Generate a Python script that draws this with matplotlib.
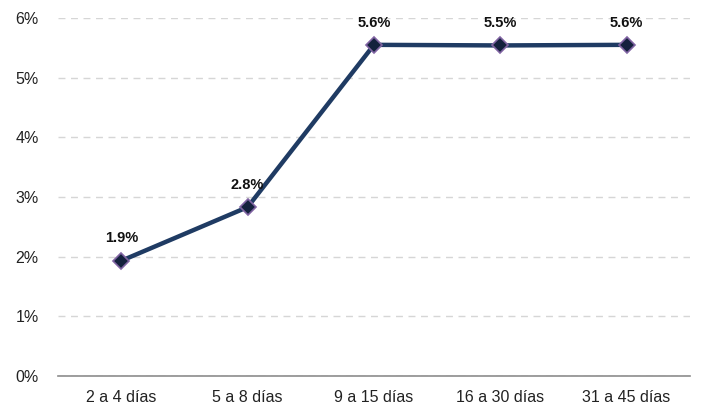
import matplotlib
matplotlib.use("Agg")
import matplotlib.pyplot as plt

categories = ["2 a 4 días", "5 a 8 días", "9 a 15 días", "16 a 30 días", "31 a 45 días"]
values = [1.93, 2.83, 5.55, 5.54, 5.55]
labels = ["1.9%", "2.8%", "5.6%", "5.5%", "5.6%"]
yticks = [0, 1, 2, 3, 4, 5, 6]

plt.rcParams['font.family'] = ["Liberation Sans", "DejaVu Sans"]

fig = plt.figure(figsize=(7.01, 4.09), dpi=100)
ax = fig.add_axes([0.083, 0.081, 0.901, 0.875])

x = list(range(len(categories)))
ax.plot(x, values, color="#1F3B63", linewidth=3.2, marker="D", markersize=8,
        markerfacecolor="#14213D", markeredgecolor="#8064A2", markeredgewidth=1.2, zorder=3)

for xi, v, lab in zip(x, values, labels):
    ax.annotate(lab, (xi, v), xytext=(0, 11), textcoords="offset points",
                ha="center", va="bottom", fontsize=10.5, fontweight="bold", color="#111111")

ax.set_xlim(-0.5, len(categories) - 0.5)
ax.set_ylim(0, 6)
ax.set_yticks(yticks)
ax.set_yticklabels([f"{t}%" for t in yticks])
ax.set_xticks(x)
ax.set_xticklabels(categories)
ax.tick_params(length=0, labelsize=11.5, colors="#222222")
ax.tick_params(axis="x", pad=10)
ax.tick_params(axis="y", pad=14)

ax.grid(axis="y", linestyle=(0, (5, 4)), color="#D6D6D6", linewidth=1)
ax.set_axisbelow(True)
for s in ["top", "right", "left"]:
    ax.spines[s].set_visible(False)
ax.spines["bottom"].set_color("#8C8C8C")
ax.spines["bottom"].set_linewidth(1.2)

fig.savefig("out.png", dpi=100)
